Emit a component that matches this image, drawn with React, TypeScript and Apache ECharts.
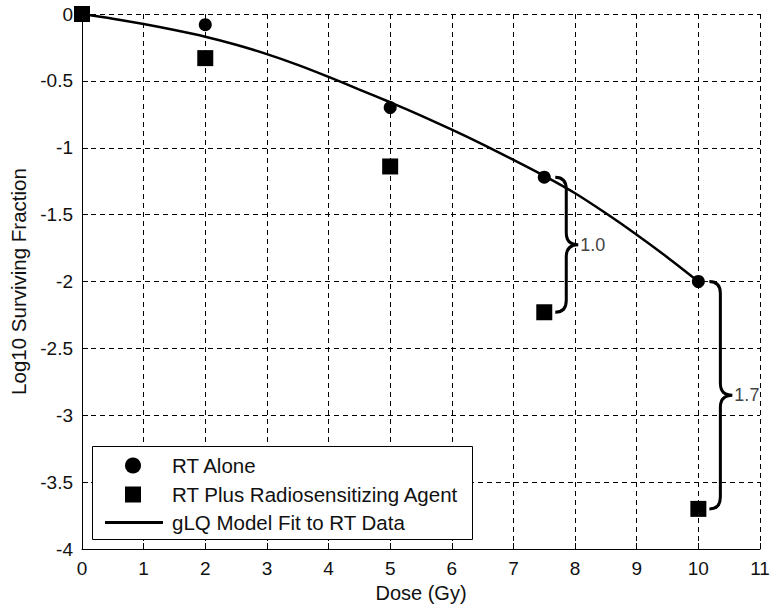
import React, { useEffect, useRef } from "react";
import * as echarts from "echarts";

// Dose (Gy) at which measurements were taken
const doses = [0, 2, 5, 7.5, 10];
// log10 surviving fraction, RT alone
const rtAlone = [0, -0.08, -0.7, -1.22, -2.0];
// log10 surviving fraction, RT plus radiosensitizing agent
const rtPlus = [0, -0.33, -1.14, -2.23, -3.7];
// gLQ model fit to RT data
const fitDose = [0, 0.5, 1, 1.5, 2, 2.5, 3, 3.5, 4, 4.5, 5, 5.5, 6, 6.5, 7, 7.5, 8, 8.5, 9, 9.5, 10];
const fitVal = [0, -0.035, -0.075, -0.12, -0.17, -0.23, -0.3, -0.38, -0.47, -0.565, -0.66, -0.76, -0.865, -0.975, -1.09, -1.21, -1.34, -1.49, -1.65, -1.82, -2.0];
// braces showing the difference between the two treatments
const braceIdx = [3, 4];
const braceLabels = ["1.0", "1.7"];

const xTicks = { min: 0, max: 11, interval: 1 };
const yTicks = { min: -4, max: 0, interval: 0.5 };

const FONT = "'Liberation Sans', Arial, sans-serif";

export default function App() {
  const ref = useRef<HTMLDivElement>(null);
  useEffect(() => {
    if (!ref.current) return;
    const chart = echarts.init(ref.current, undefined, { renderer: "svg" });
    const braceData = braceIdx.map((i) => [doses[i], rtAlone[i], rtPlus[i]]);
    const legendText = { fontFamily: FONT, fontSize: 20.5, color: "#111", lineHeight: 20 };
    chart.setOption({
      animation: false,
      backgroundColor: "#fff",
      grid: { left: 82, right: 15, top: 14, bottom: 62 },
      xAxis: {
        type: "value",
        min: xTicks.min,
        max: xTicks.max,
        interval: xTicks.interval,
        name: "Dose (Gy)",
        nameLocation: "middle",
        nameGap: 34,
        nameTextStyle: { fontFamily: FONT, fontSize: 20, color: "#111" },
        axisLine: { show: true, onZero: false, lineStyle: { color: "#000", width: 1 } },
        axisTick: { show: true, inside: true, length: 6, lineStyle: { color: "#000" } },
        axisLabel: { fontFamily: FONT, fontSize: 19, color: "#111", margin: 10 },
        splitLine: { show: true, lineStyle: { color: "#000", type: [5, 4], width: 1 } },
      },
      yAxis: {
        type: "value",
        min: yTicks.min,
        max: yTicks.max,
        interval: yTicks.interval,
        name: "Log10 Surviving Fraction",
        nameLocation: "middle",
        nameRotate: 90,
        nameGap: 43,
        nameTextStyle: { fontFamily: FONT, fontSize: 20.5, color: "#111" },
        axisLine: { show: true, onZero: false, lineStyle: { color: "#000", width: 1 } },
        axisTick: { show: true, inside: true, length: 6, lineStyle: { color: "#000" } },
        axisLabel: { fontFamily: FONT, fontSize: 19, color: "#111", margin: 9 },
        splitLine: { show: true, lineStyle: { color: "#000", type: [5, 4], width: 1 } },
      },
      graphic: [
        {
          type: "rect",
          left: 92,
          top: 446,
          z: 3,
          shape: { width: 380, height: 93 },
          style: { fill: "#fff", stroke: "#000", lineWidth: 1 },
        },
      ],
      legend: [
        {
          orient: "vertical",
          left: 125,
          top: 455,
          z: 10,
          data: [
            { name: "RT Alone", icon: "circle" },
            { name: "RT Plus Radiosensitizing Agent", icon: "rect" },
          ],
          itemWidth: 16,
          itemHeight: 16,
          itemGap: 8,
          padding: 0,
          textStyle: { ...legendText, padding: [0, 0, 0, 26] },
          selectedMode: false,
        },
        {
          orient: "vertical",
          left: 105,
          top: 512,
          z: 10,
          data: [{ name: "gLQ Model Fit to RT Data", icon: "rect" }],
          itemWidth: 58,
          itemHeight: 3,
          padding: 0,
          textStyle: { ...legendText, padding: [0, 0, 0, 4] },
          selectedMode: false,
        },
      ],
      series: [
        {
          name: "gLQ Model Fit to RT Data",
          type: "line",
          data: fitDose.map((d, i) => [d, fitVal[i]]),
          smooth: 0.3,
          symbol: "none",
          lineStyle: { color: "#000", width: 2.5 },
          itemStyle: { color: "#000" },
          z: 3,
        },
        {
          name: "RT Alone",
          type: "scatter",
          data: doses.map((d, i) => [d, rtAlone[i]]),
          symbol: "circle",
          symbolSize: 13,
          itemStyle: { color: "#000", opacity: 1 },
          z: 4,
        },
        {
          name: "RT Plus Radiosensitizing Agent",
          type: "scatter",
          data: doses.map((d, i) => [d, rtPlus[i]]),
          symbol: "rect",
          symbolSize: 16,
          itemStyle: { color: "#000", opacity: 1 },
          z: 5,
        },
        {
          name: "braces",
          type: "custom",
          clip: false,
          data: braceData,
          z: 6,
          renderItem: (params: any, api: any) => {
            const top = api.coord([api.value(0), api.value(1)]);
            const bot = api.coord([api.value(0), api.value(2)]);
            const x0 = top[0];
            const xs = x0 + 11;
            const xv = x0 + 22;
            const xt = x0 + 34;
            const yt = top[1];
            const yb = bot[1];
            const ym = (yt + yb) / 2;
            const r = 12;
            const d = `M${xs},${yt} Q${xv},${yt} ${xv},${yt + r} L${xv},${ym - r} Q${xv},${ym} ${xt},${ym} Q${xv},${ym} ${xv},${ym + r} L${xv},${yb - r} Q${xv},${yb} ${xs},${yb}`;
            return {
              type: "group",
              children: [
                {
                  type: "path",
                  shape: { pathData: d },
                  style: { stroke: "#000", lineWidth: 3, fill: null },
                },
                {
                  type: "text",
                  x: xt + 2,
                  y: ym,
                  style: {
                    text: braceLabels[params.dataIndex],
                    fontFamily: FONT,
                    fontSize: 18,
                    fill: "#444",
                    align: "left",
                    verticalAlign: "middle",
                  },
                },
              ],
            };
          },
        },
      ],
    });
    return () => chart.dispose();
  }, []);
  return (
    <div
      ref={ref}
      style={{ position: "absolute", left: 0, top: 0, width: 775, height: 611, background: "#fff" }}
    />
  );
}
